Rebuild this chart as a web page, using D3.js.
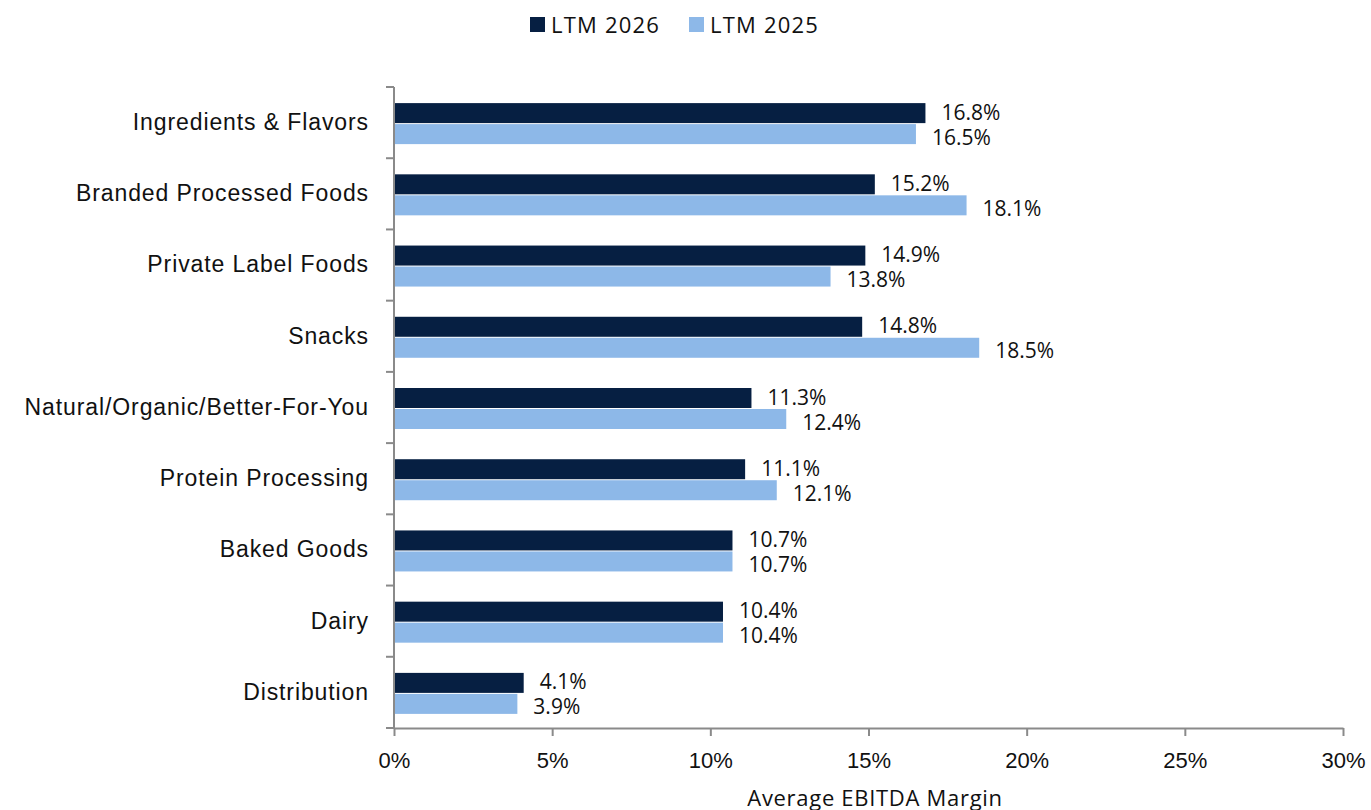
<!DOCTYPE html>
<html>
<head>
<meta charset="utf-8">
<script src="https://cdn.jsdelivr.net/npm/d3@7"></script>
<style>
  body { margin: 0; background: #fff; }
  svg { font-family: "Open Sans", "Noto Sans", sans-serif; }
  .axis path, .axis line { stroke: #8a8a8a; stroke-width: 2px; }
  .axis text { fill: #111; font-size: 22px; }
  .ycat .tick text { font-size: 23px; letter-spacing: 0.9px; }
</style>
</head>
<body>
<svg width="1371" height="810"></svg>
<script>
var categories = ["Ingredients & Flavors", "Branded Processed Foods", "Private Label Foods", "Snacks",
  "Natural/Organic/Better-For-You", "Protein Processing", "Baked Goods", "Dairy", "Distribution"];
var ltm2026 = [16.8, 15.2, 14.9, 14.8, 11.3, 11.1, 10.7, 10.4, 4.1];
var ltm2025 = [16.5, 18.1, 13.8, 18.5, 12.4, 12.1, 10.7, 10.4, 3.9];
var seriesNames = ["LTM 2026", "LTM 2025"];
var xTicks = [0, 5, 10, 15, 20, 25, 30];

var colors = ["#061f42", "#8db8e8"];
var svg = d3.select("svg");
var plotL = 394, plotR = 1343, plotT = 87, plotB = 728;

var x = d3.scaleLinear().domain([0, 30]).range([plotL, plotR]);
var y = d3.scaleBand().domain(categories).range([plotT, plotB]);
var barH = 20;

// bars + labels
var series = [ltm2026, ltm2025];
series.forEach(function(vals, s) {
  var g = svg.append("g");
  g.selectAll("rect").data(categories).enter().append("rect")
    .attr("x", x(0))
    .attr("y", function(d) { return y(d) + y.bandwidth() / 2 - barH + s * (barH + 1) + 0.5; })
    .attr("width", function(d, i) { return x(vals[i]) - x(0); })
    .attr("height", barH)
    .attr("fill", colors[s]);
  g.selectAll("text").data(categories).enter().append("text")
    .attr("x", function(d, i) { return x(vals[i]) + 16; })
    .attr("y", function(d) { return y(d) + y.bandwidth() / 2 - 3 + s * 25; })
    .attr("font-size", 21).attr("fill", "#111")
    .text(function(d, i) { return vals[i].toFixed(1) + "%"; });
});

// x axis
svg.append("g").attr("class", "axis")
  .attr("transform", "translate(0," + plotB + ")")
  .call(d3.axisBottom(x).tickValues(xTicks).tickSize(8).tickSizeOuter(0)
    .tickFormat(function(d) { return d + "%"; }))
  .call(function(g) {
    g.selectAll(".tick text").attr("dy", "1.3em");
  });

// y axis
var yAxis = svg.append("g").attr("class", "axis ycat")
  .attr("transform", "translate(" + plotL + ",0)")
  .call(d3.axisLeft(y).tickSize(0).tickPadding(25))
  .call(function(g) { g.select(".domain").attr("d", "M0," + plotT + "V" + plotB); });
// boundary ticks between categories
var bounds = d3.range(categories.length + 1).map(function(i) { return plotT + i * y.step(); });
yAxis.selectAll(".btick").data(bounds).enter().append("line")
  .attr("x1", -8).attr("x2", 0).attr("y1", function(d) { return d; }).attr("y2", function(d) { return d; })
  .attr("stroke", "#8a8a8a").attr("stroke-width", 2);

// axis title
svg.append("text").attr("x", 875).attr("y", 806)
  .attr("text-anchor", "middle").attr("font-size", 22).attr("letter-spacing", "0.7px").attr("fill", "#111")
  .text("Average EBITDA Margin");

// legend
var lg = svg.append("g");
var lx = [530, 689];
seriesNames.forEach(function(n, i) {
  lg.append("rect").attr("x", lx[i]).attr("y", 17).attr("width", 15).attr("height", 15).attr("fill", colors[i]);
  lg.append("text").attr("x", lx[i] + 21).attr("y", 33).attr("font-size", 22).attr("letter-spacing", "1.2px")
    .attr("fill", "#111").text(n);
});
</script>
</body>
</html>
